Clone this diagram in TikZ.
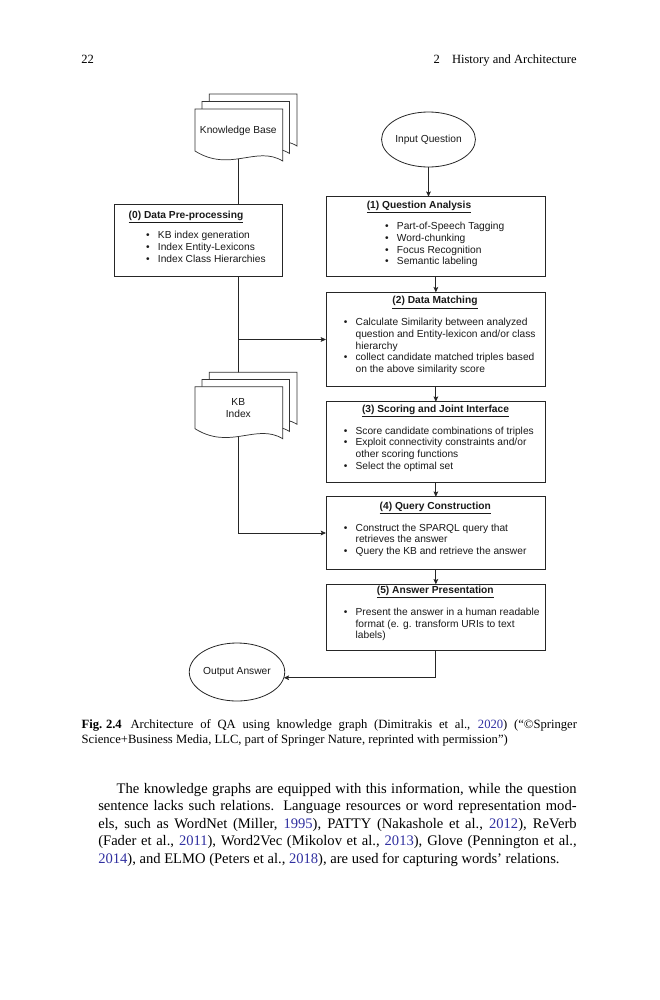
\documentclass[tikz,border=0pt]{standalone}
\usepackage{fontspec}
\setmainfont{Liberation Serif}
\newfontfamily\arialf{Liberation Sans}
\usetikzlibrary{arrows.meta,shapes.geometric,backgrounds}
\definecolor{linkblue}{RGB}{48,48,160}
\def\px{0.6857pt}
\newcommand\dfont{\arialf\fontsize{7}{8.02}\selectfont}
\newcommand\bodyfont{\fontsize{10}{12}\selectfont}
\newcommand\capfont{\fontsize{8.65}{10.3}\selectfont}
\newcommand\headfont{\fontsize{8.6}{10}\selectfont}
\newcommand\blist[1]{\begin{tabular}[t]{@{}l@{\hspace{5.6pt}}l@{}}#1\end{tabular}}
\newcommand\btitle[1]{\underline{\textbf{#1}}}
\newcommand\yr[1]{\textcolor{linkblue}{#1}}
\newcommand\docsheet[2]{\path[sheet] (#1,#2) -- ({#1+87.7},#2) -- ({#1+87.7},{#2+52})
  .. controls ({#1+61.4},{#2+36}) and ({#1+35.1},{#2+64}) .. (#1,{#2+42}) -- cycle;}
\begin{document}
\begin{tikzpicture}[x=0.6857pt,y=-0.6857pt,
  every node/.style={inner sep=0pt, outer sep=0pt},
  dtext/.style={font=\dfont, text=black!90},
  procbox/.style={draw=black!85, line width=0.55pt},
  flow/.style={draw=black!85, line width=0.55pt},
  arr/.style={flow, -{Stealth[length=3.6pt,width=3.2pt,inset=0.7pt]}},
  sheet/.style={draw=black!80, line width=0.5pt, fill=white},
  oval/.style={ellipse, draw=black!85, line width=0.55pt, font=\dfont, text=black!90},
  bodyl/.style={anchor=base west, font=\bodyfont},
  capl/.style={anchor=base west, font=\capfont},
]
\useasboundingbox (0,0) rectangle (659,1000);

% running head
\node[anchor=base west, font=\headfont] (pg) at (81.3,63.5) {22};
\node[anchor=base east, font=\headfont] (rh) at (576.7,63.5) {2\hspace{8.4pt}History and Architecture};

% documents
\docsheet{209.3}{94}
\docsheet{201.9}{101.5}
\docsheet{195}{109}
\node[dtext] (kbdoc) at (238.3,131) {Knowledge Base};

\docsheet{209.3}{372.3}
\docsheet{201.9}{379.5}
\docsheet{195}{386.7}
\node[dtext, align=center] (kbidx) at (238.3,408) {KB\\Index};

% ellipses
\node[oval, minimum width=89*\px, minimum height=55*\px] (inq) at (428.5,139.5) {Input Question};
\node[oval, minimum width=86*\px, minimum height=58*\px] (outans) at (237,672) {Output Answer};

% boxes
\node[procbox, minimum width=168*\px, minimum height=72*\px] (box0) at (198,240) {};
\node[procbox, minimum width=219.7*\px, minimum height=79.3*\px] (box1) at (435.85,236.35) {};
\node[procbox, minimum width=219.7*\px, minimum height=94.4*\px] (box2) at (435.85,339.5) {};
\node[procbox, minimum width=219.7*\px, minimum height=80.6*\px] (box3) at (435.85,442) {};
\node[procbox, minimum width=219.7*\px, minimum height=72.6*\px] (box4) at (435.85,533) {};
\node[procbox, minimum width=219.7*\px, minimum height=65.7*\px] (box5) at (435.85,617.15) {};

% titles
\node[dtext, anchor=base] (t0) at (186,218) {\btitle{(0) Data Pre-processing}};
\node[dtext, anchor=base] (t1) at (419,208) {\btitle{(1) Question Analysis}};
\node[dtext, anchor=base] (t2) at (435,303.7) {\btitle{(2) Data Matching}};
\node[dtext, anchor=base] (t3) at (435.5,412) {\btitle{(3) Scoring and Joint Interface}};
\node[dtext, anchor=base] (t4) at (435.3,509) {\btitle{(4) Query Construction}};
\node[dtext, anchor=base] (t5) at (435.3,593) {\btitle{(5) Answer Presentation}};

% lists
\node[dtext, anchor=base west] (li0) at (146.2,238.7) {\blist{%
\textbullet & KB index generation\\
\textbullet & Index Entity-Lexicons\\
\textbullet & Index Class Hierarchies}};
\node[dtext, anchor=base west] (li1) at (385.2,229.7) {\blist{%
\textbullet & Part-of-Speech Tagging\\
\textbullet & Word-chunking\\
\textbullet & Focus Recognition\\
\textbullet & Semantic labeling}};
\node[dtext, anchor=base west] (li2) at (343.9,325.7) {\blist{%
\textbullet & Calculate Similarity between analyzed\\
 & question and Entity-lexicon and/or class\\
 & hierarchy\\
\textbullet & collect candidate matched triples based\\
 & on the above similarity score}};
\node[dtext, anchor=base west] (li3) at (343.9,434) {\blist{%
\textbullet & Score candidate combinations of triples\\
\textbullet & Exploit connectivity constraints and/or\\
 & other scoring functions\\
\textbullet & Select the optimal set}};
\node[dtext, anchor=base west] (li4) at (343.9,531) {\blist{%
\textbullet & Construct the SPARQL query that\\
 & retrieves the answer\\
\textbullet & Query the KB and retrieve the answer}};
\node[dtext, anchor=base west] (li5) at (343.9,615.3) {\blist{%
\textbullet & Present the answer in a human readable\\
 & format (e. g. transform URIs to text\\
 & labels)}};

% connectors
\begin{pgfonlayer}{background}
\draw[flow] (kbdoc.center) -- (kbdoc.center |- box0.north);
\draw[flow] (kbdoc.center |- box0.south) -- (kbidx.center);
\draw[arr] (kbdoc.center |- box2.west) -- (box2.west);
\draw[arr] (kbidx.center) |- (box4.west);
\draw[arr] (inq.south) -- (inq.south |- box1.north);
\draw[arr] (box1.south) -- (box2.north);
\draw[arr] (box2.south) -- (box3.north);
\draw[arr] (box3.south) -- (box4.north);
\draw[arr] (box4.south) -- (box5.north);
\draw[arr] (box5.south) |- (outans.-7);
\end{pgfonlayer}

% caption
\node[capl] (cap1) at (81.7,728.3) {\makebox[339.6pt][s]{\textbf{Fig.\hspace{2.5pt}2.4}\hspace{6pt}Architecture of QA using knowledge graph (Dimitrakis et al., \yr{2020}) (“©Springer}};
\node[capl] (cap2) at (81.7,743.3) {Science+Business Media, LLC, part of Springer Nature, reprinted with permission”)};

% body text
\node[bodyl] (b1) at (116.7,793.3) {\makebox[315.4pt][s]{The knowledge graphs are equipped with this information, while the question}};
\node[bodyl] (b2) at (98.3,810.8) {\makebox[328pt][s]{sentence lacks such relations. Language resources or word representation mod-}};
\node[bodyl] (b3) at (98.3,828.3) {\makebox[328pt][s]{els, such as WordNet (Miller, \yr{1995}), PATTY (Nakashole et al., \yr{2012}), ReVerb}};
\node[bodyl] (b4) at (98.3,845.8) {\makebox[328pt][s]{(Fader et al., \yr{2011}), Word2Vec (Mikolov et al., \yr{2013}), Glove (Pennington et al.,}};
\node[bodyl] (b5) at (98.3,863.3) {\yr{2014}), and ELMO (Peters et al., \yr{2018}), are used for capturing words’ relations.};
\end{tikzpicture}
\end{document}
